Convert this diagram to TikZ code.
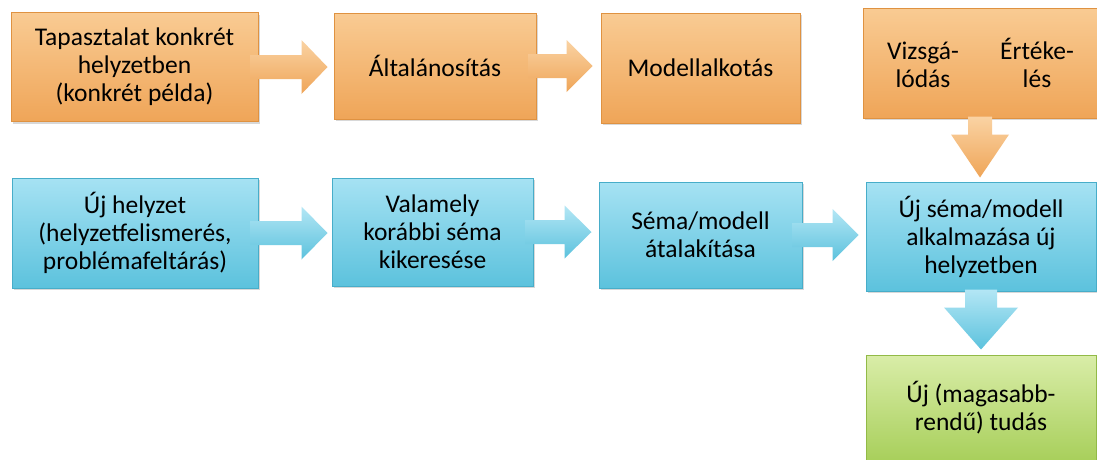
\documentclass[tikz,border=0pt]{standalone}
\usepackage{fontspec}
\setmainfont{Carlito}
\usetikzlibrary{calc,shadows}
\definecolor{orangetop}{HTML}{F9CB93}
\definecolor{orangebot}{HTML}{EFA558}
\definecolor{orangeline}{HTML}{DF9241}
\definecolor{bluetop}{HTML}{A6E2F3}
\definecolor{bluebot}{HTML}{5CC2DD}
\definecolor{blueline}{HTML}{47ADC9}
\definecolor{greentop}{HTML}{D9EDA8}
\definecolor{greenbot}{HTML}{A8CF5B}
\definecolor{greenline}{HTML}{92BA47}
% block arrow: style, from, tip, shaft half width, head half width, head length
\newcommand{\blockarrow}[6]{%
  \coordinate (ba) at ($(#3)!#6!(#2)$);
  \path[#1] ($(#2)!#4!90:(#3)$) -- ($(ba)!#4!90:(#3)$) -- ($(ba)!#5!90:(#3)$) -- (#3)
    -- ($(ba)!#5!-90:(#3)$) -- ($(ba)!#4!-90:(#3)$) -- ($(#2)!#4!-90:(#3)$) -- cycle;}

\begin{document}
\begin{tikzpicture}[x=1pt,y=-1pt,
  box/.style={rectangle,draw,line width=1pt,align=center,inner sep=4pt,
    font=\fontsize{25.5}{28}\selectfont,
    drop shadow={shadow xshift=2pt,shadow yshift=-2pt,opacity=.3}},
  orangebox/.style={box,draw=orangeline,top color=orangetop,bottom color=orangebot},
  bluebox/.style={box,draw=blueline,top color=bluetop,bottom color=bluebot},
  greenbox/.style={box,draw=greenline,top color=greentop,bottom color=greenbot},
  orangearrow/.style={top color=orangetop!85!white,bottom color=orangebot},
  bluearrow/.style={top color=bluetop!85!white,bottom color=bluebot}]
\useasboundingbox[fill=white] (0,0) rectangle (1097,459);
% upper row
\node[orangebox,minimum width=247pt,minimum height=109pt] (tap) at (134.5,67) {Tapasztalat konkrét\\helyzetben\\(konkrét példa)};
\node[orangebox,minimum width=202pt,minimum height=106pt] (alt) at (435,66) {Általánosítás};
\node[orangebox,minimum width=199pt,minimum height=110pt] (mod) at (700.5,68) {Modellalkotás};
\node[orangebox,minimum width=234pt,minimum height=110pt] (viz) at (980,63) {\makebox[100pt]{Vizsgá-}\hspace{14pt}\makebox[100pt]{Értéke-}\\\makebox[100pt]{lódás}\hspace{14pt}\makebox[100pt]{lés}};
% lower row
\node[bluebox,minimum width=246pt,minimum height=110pt] (ujh) at (135,233) {Új helyzet\\(helyzetfelismerés,\\problémafeltárás)};
\node[bluebox,minimum width=201pt,minimum height=108pt] (val) at (432.5,232) {Valamely\\korábbi séma\\kikeresése};
\node[bluebox,minimum width=203pt,minimum height=106pt] (sem) at (700.5,235) {Séma/modell\\átalakítása};
\node[bluebox,minimum width=230pt,minimum height=109pt] (uja) at (981,236.5) {Új séma/modell\\alkalmazása új\\helyzetben};
\node[greenbox,minimum width=230pt,minimum height=106pt] (grn) at (981,408) {Új (magasabb-\\rendű) tudás};
% arrows
\coordinate (a1s) at ([xshift=-8pt]tap.east);
\coordinate (a1e) at ([xshift=-6pt]tap.east -| alt.west);
\blockarrow{orangearrow}{a1s}{a1e}{12pt}{27pt}{26pt}
\coordinate (a2s) at ([xshift=-8pt]alt.east);
\coordinate (a2e) at ([xshift=-8pt]alt.east -| mod.west);
\blockarrow{orangearrow}{a2s}{a2e}{12pt}{26pt}{26pt}
\coordinate (a3s) at ([yshift=2pt]viz.south);
\coordinate (a3e) at ([yshift=4pt]viz.south |- uja.north);
\blockarrow{orangearrow}{a3s}{a3e}{12pt}{29pt}{43pt}
\coordinate (b1s) at ([xshift=-8pt]ujh.east);
\coordinate (b1e) at ([xshift=-4pt]ujh.east -| val.west);
\blockarrow{bluearrow}{b1s}{b1e}{12pt}{26.5pt}{26pt}
\coordinate (b2s) at ([xshift=-8pt]val.east);
\coordinate (b2e) at ([xshift=-7pt]val.east -| sem.west);
\blockarrow{bluearrow}{b2s}{b2e}{12pt}{26.5pt}{27pt}
\coordinate (b3s) at ([xshift=-10pt]sem.east);
\coordinate (b3e) at ([xshift=-7pt]sem.east -| uja.west);
\blockarrow{bluearrow}{b3s}{b3e}{12pt}{26pt}{26pt}
\coordinate (b4s) at ([yshift=2pt]uja.south);
\coordinate (b4e) at ([yshift=5pt]uja.south |- grn.north);
\blockarrow{bluearrow}{b4s}{b4e}{16pt}{37pt}{42pt}
\end{tikzpicture}
\end{document}
